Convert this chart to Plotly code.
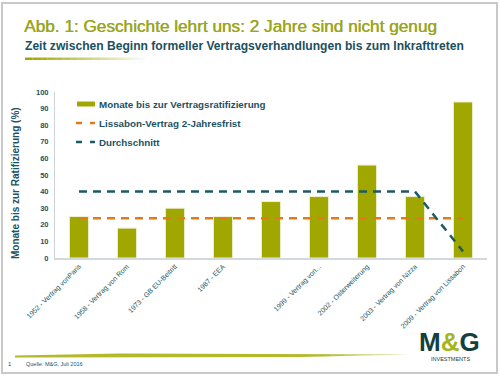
import plotly.graph_objects as go

# ---- data ----
categories = ["1952 - Vertrag vonParis", "1958 - Vertrag von Rom", "1973 - GB EU-Beitritt",
              "1987 - EEA", "", "1999 - Vertrag von...", "2002 - Osterweiterung",
              "2003 - Vertrag von Nizza", "2009 - Vertrag von Lissabon"]
months = [25, 18, 30, 25, 34, 37, 56, 37, 94]
lissabon_frist = [24, 24, 24, 24, 24, 24, 24, 24, 24]
durchschnitt = [40, 40, 40, 40, 40, 40, 40, 40, 4]
y_ticks = [0, 10, 20, 30, 40, 50, 60, 70, 80, 90, 100]

OLIVE = "#a0a800"
TEAL = "#1b5a66"
DARK = "#1d5263"
ORANGE = "#e07c18"
FONT = "Liberation Sans"

# plot area in pixels
L, R, T, B = 55, 487, 92, 258
W, H = R - L, B - T


def px(x):
    return (x - L) / W


def py(y):
    return (B - y) / H


xs = list(range(len(categories)))

fig = go.Figure()
fig.add_trace(go.Bar(x=xs, y=months, width=0.4, marker=dict(color=OLIVE, line=dict(color="#eef0d2", width=1)),
                     name="Monate bis zur Vertragsratifizierung", showlegend=False))
fig.add_trace(go.Scatter(x=xs, y=lissabon_frist, mode="lines", line=dict(color=ORANGE, width=2.5, dash="8px,6px"),
                         name="Lissabon-Vertrag 2-Jahresfrist", showlegend=False))
fig.add_trace(go.Scatter(x=xs, y=durchschnitt, mode="lines", line=dict(color=TEAL, width=2.5, dash="8px,6px"),
                         name="Durchschnitt", showlegend=False))

shapes = []
annotations = []

# frame
shapes.append(dict(type="rect", xref="paper", yref="paper", x0=px(2), x1=px(497), y0=py(3), y1=py(373),
                   line=dict(color="#c9c9c9", width=2), fillcolor="rgba(0,0,0,0)", layer="below"))

# title underline gradient
n = 16
for i in range(n):
    x0 = 25 + i * 7.5
    shapes.append(dict(type="rect", xref="paper", yref="paper", x0=px(x0), x1=px(x0 + 7.5), y0=py(60), y1=py(57.5),
                       line=dict(width=0), fillcolor=OLIVE, opacity=max(0.03, 1 - i / n)))

# footer brush stroke
shapes.append(dict(type="path", xref="paper", yref="paper",
                   path="M {} {} L {} {} L {} {} L {} {} L {} {} Z".format(
                       px(15), py(355.5), px(120), py(353.5), px(410), py(354.5), px(300), py(357), px(15), py(357.5)),
                   line=dict(width=0), fillcolor="#b2b92a"))
for i in range(6):
    x0 = 330 + i * 14
    shapes.append(dict(type="rect", xref="paper", yref="paper", x0=px(x0), x1=px(x0 + 14), y0=py(356.5), y1=py(354.5),
                       line=dict(width=0), fillcolor="white", opacity=0.15 + i * 0.14))

# manual legend
leg_rows = [104, 123, 142]
shapes.append(dict(type="rect", xref="paper", yref="paper", x0=px(77), x1=px(95), y0=py(106.5), y1=py(101.5),
                   line=dict(width=0), fillcolor=OLIVE))
for yy, col in [(leg_rows[1], ORANGE), (leg_rows[2], TEAL)]:
    for a, b in [(76, 82), (90, 95)]:
        shapes.append(dict(type="line", xref="paper", yref="paper", x0=px(a), x1=px(b), y0=py(yy), y1=py(yy),
                           line=dict(color=col, width=2.5)))
leg_texts = ["Monate bis zur Vertragsratifizierung", "Lissabon-Vertrag 2-Jahresfrist", "Durchschnitt"]
for yy, t in zip(leg_rows, leg_texts):
    annotations.append(dict(xref="paper", yref="paper", x=px(97), y=py(yy), xanchor="left", yanchor="middle",
                            align="left", text="<b>" + t + "</b>", showarrow=False,
                            font=dict(family=FONT, size=9.8, color=DARK)))

# subtitle
annotations.append(dict(xref="paper", yref="paper", x=px(23), y=py(46), xanchor="left", yanchor="middle",
                        align="left",
                        text="<b>Zeit zwischen Beginn formeller Vertragsverhandlungen bis zum Inkrafttreten</b>",
                        showarrow=False, font=dict(family=FONT, size=12.1, color="#1b5060")))

# y axis title
annotations.append(dict(xref="paper", yref="paper", x=px(15), y=py(183), xanchor="center", yanchor="middle",
                        text="<b>Monate bis zur Ratifizierung (%)</b>", textangle=-90, showarrow=False,
                        font=dict(family=FONT, size=10, color=DARK)))

# footer
annotations.append(dict(xref="paper", yref="paper", x=px(6), y=py(364), xanchor="left", yanchor="middle",
                        align="left", text="1", showarrow=False, font=dict(family=FONT, size=6, color=DARK)))
annotations.append(dict(xref="paper", yref="paper", x=px(24), y=py(364), xanchor="left", yanchor="middle",
                        align="left", text="Quelle: M&G, Juli 2016", showarrow=False,
                        font=dict(family=FONT, size=5.5, color=DARK)))

# logo
annotations.append(dict(xref="paper", yref="paper", x=px(449), y=py(342), xanchor="center", yanchor="middle",
                        text="<b>M<span style='color:#a5b51e'>&</span>G</b>", showarrow=False,
                        font=dict(family=FONT, size=26, color="#123f40")))
annotations.append(dict(xref="paper", yref="paper", x=px(450), y=py(359), xanchor="center", yanchor="middle",
                        text="INVESTMENTS", showarrow=False, font=dict(family=FONT, size=5.5, color="#123f40")))

fig.update_layout(
    width=500, height=380,
    title=dict(text="Abb. 1: Geschichte lehrt uns: 2 Jahre sind nicht genug", xref="container", yref="container",
               x=24 / 500, xanchor="left", y=1 - 26 / 380, yanchor="middle",
               font=dict(family=FONT, size=17.2, color="#9aa61c", shadow="0.5px 0px 0px #9aa61c")),
    margin=dict(l=L, r=500 - R, t=T, b=380 - B, autoexpand=False),
    paper_bgcolor="white", plot_bgcolor="white",
    showlegend=False,
    bargap=0.6,
    shapes=shapes, annotations=annotations,
    xaxis=dict(range=[-0.5, 8.5], tickvals=xs, ticktext=categories, tickangle=-45, automargin=False,
               tickfont=dict(family=FONT, size=7, color=DARK), showgrid=False, zeroline=False,
               showline=True, linecolor="#d3d8dc", linewidth=1.5, ticks=""),
    yaxis=dict(range=[0, 100], tickvals=y_ticks, tickfont=dict(family=FONT, size=7.5, color=DARK, weight="bold"),
               showgrid=False, zeroline=False, showline=True, linecolor="#cdd2d6", linewidth=1, ticks="",
               ticklabelstandoff=4, automargin=False),
)

fig.write_html("out.html", config={"displayModeBar": False},
               post_script="document.body.style.margin='0';")
